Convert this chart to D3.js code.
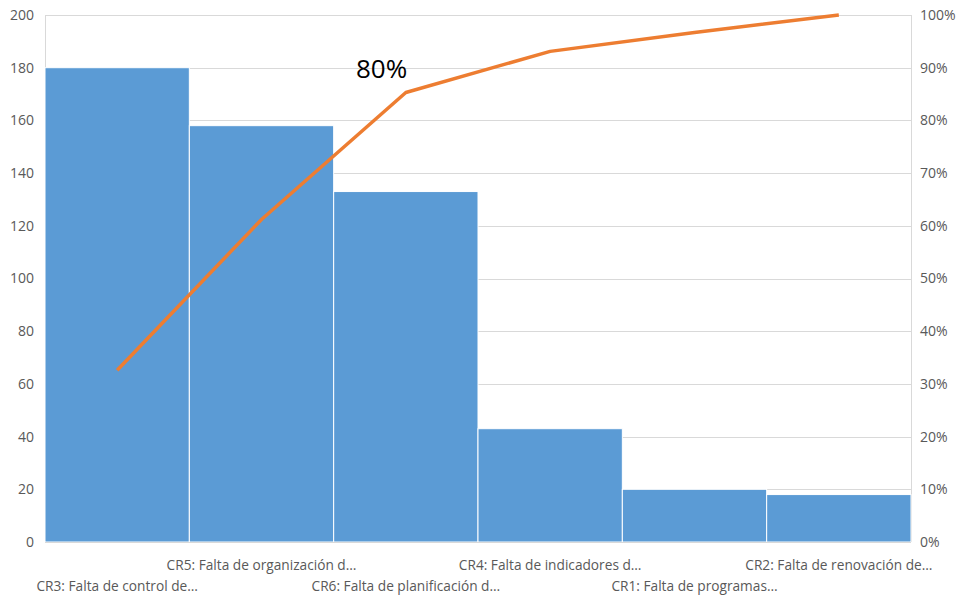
<!DOCTYPE html>
<html>
<head>
<meta charset="utf-8">
<script src="https://cdn.jsdelivr.net/npm/d3@7"></script>
<style>
  body { margin: 0; background: #fff; }
  text { font-family: "Open Sans", "Noto Sans", sans-serif; }
</style>
</head>
<body>
<div id="chart"></div>
<script>
// Data
const causes = [
  "CR3: Falta de control de…",
  "CR5: Falta de organización d…",
  "CR6: Falta de planificación d…",
  "CR4: Falta de indicadores d…",
  "CR1: Falta de programas…",
  "CR2: Falta de renovación de…"
];
const counts = [180, 158, 133, 43, 20, 18];
const cumulativePct = [0.326, 0.612, 0.853, 0.931, 0.967, 1.0];
const leftTicks = [0, 20, 40, 60, 80, 100, 120, 140, 160, 180, 200];
const rightTicks = [0, 0.1, 0.2, 0.3, 0.4, 0.5, 0.6, 0.7, 0.8, 0.9, 1.0];

const W = 960, H = 595;
const margin = { top: 15, right: 49, bottom: 53, left: 45 },
    width = W - margin.left - margin.right,
    height = H - margin.top - margin.bottom;

const svg = d3.select("#chart").append("svg")
    .attr("width", W)
    .attr("height", H);

const g = svg.append("g")
    .attr("transform", `translate(${margin.left},${margin.top})`);

// Scales
const x = d3.scaleBand().domain(causes).range([0, width]).padding(0);
const y = d3.scaleLinear().domain([0, 200]).range([height, 0]);
const y2 = d3.scaleLinear().domain([0, 1]).range([height, 0]);

// Gridlines
g.selectAll(".grid")
    .data(leftTicks)
    .enter()
    .append("line")
        .attr("x1", 0)
        .attr("x2", width)
        .attr("y1", d => Math.round(y(d)) + 0.5)
        .attr("y2", d => Math.round(y(d)) + 0.5)
        .attr("stroke", "#d9d9d9")
        .attr("stroke-width", 1);

// Side borders
[0, width].forEach(xx => {
    g.append("line")
        .attr("x1", xx + 0.5).attr("x2", xx + 0.5)
        .attr("y1", 0).attr("y2", height)
        .attr("stroke", "#d9d9d9");
});

// Bars
g.selectAll(".bar")
    .data(counts)
    .enter()
    .append("rect")
        .attr("class", "bar")
        .attr("x", (d, i) => x(causes[i]))
        .attr("y", d => y(d))
        .attr("width", x.bandwidth())
        .attr("height", d => height - y(d))
        .attr("fill", "#5b9bd5")
        .attr("stroke", "#ffffff")
        .attr("stroke-width", 1);

// Bottom axis line
g.append("line")
    .attr("x1", 0).attr("x2", width)
    .attr("y1", height + 0.5).attr("y2", height + 0.5)
    .attr("stroke", "#d9d9d9");

// Left axis
const leftAxis = g.append("g")
    .call(d3.axisLeft(y).tickValues(leftTicks).tickSize(0).tickPadding(11));
leftAxis.select(".domain").remove();
leftAxis.selectAll("text")
    .attr("fill", "#595959")
    .style("font-size", "14px");

// Right axis
const rightAxis = g.append("g")
    .attr("transform", `translate(${width},0)`)
    .call(d3.axisRight(y2).tickValues(rightTicks).tickFormat(d3.format(".0%")).tickSize(0).tickPadding(9));
rightAxis.select(".domain").remove();
rightAxis.selectAll("text")
    .attr("fill", "#595959")
    .style("font-size", "14px");

// Category labels, staggered on two rows
g.selectAll(".cat")
    .data(causes)
    .enter()
    .append("text")
        .attr("class", "cat")
        .attr("x", d => x(d) + x.bandwidth() / 2)
        .attr("y", (d, i) => height + (i % 2 === 0 ? 49 : 28))
        .attr("text-anchor", "middle")
        .attr("fill", "#595959")
        .style("font-size", "13.7px")
        .text(d => d);

// Cumulative line
const line = d3.line()
    .x((d, i) => x(causes[i]) + x.bandwidth() / 2)
    .y(d => y2(d));

g.append("path")
    .datum(cumulativePct)
    .attr("fill", "none")
    .attr("stroke", "#ed7d31")
    .attr("stroke-width", 3.5)
    .attr("stroke-linejoin", "round")
    .attr("d", line);

// 80% annotation
g.append("text")
    .attr("x", 311)
    .attr("y", 63)
    .attr("fill", "#000")
    .style("font-size", "26px")
    .text("80%");
</script>
</body>
</html>
